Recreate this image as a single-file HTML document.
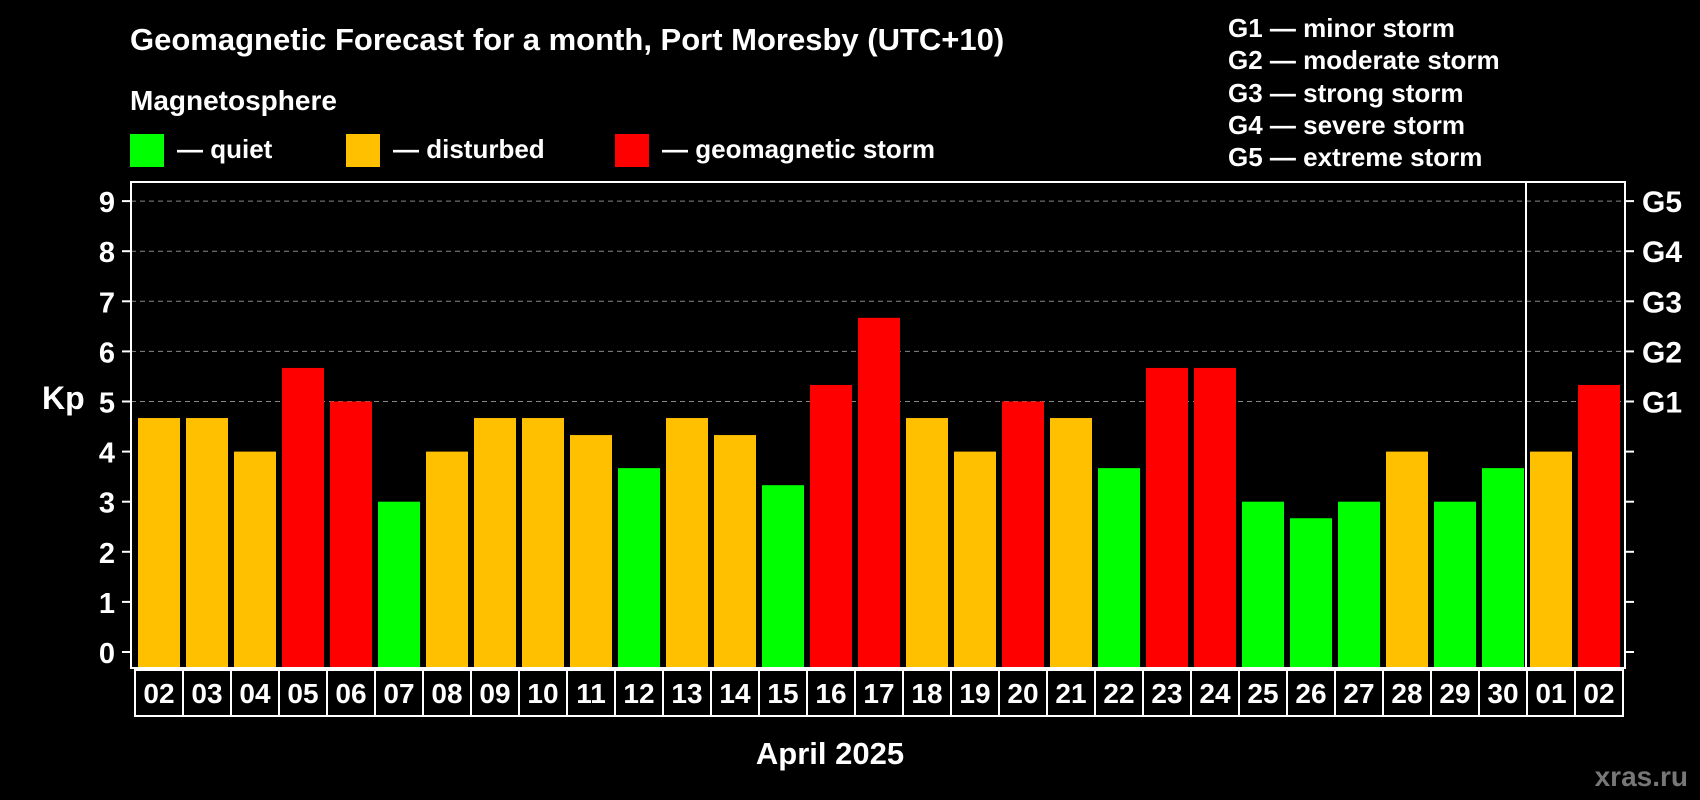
<!DOCTYPE html>
<html><head><meta charset="utf-8"><style>
html,body{margin:0;padding:0;background:#000;}
svg{display:block;font-family:"Liberation Sans",Arial,sans-serif;font-weight:bold;}
</style></head><body>
<svg id="chart" width="1700" height="800" viewBox="0 0 1700 800" xmlns="http://www.w3.org/2000/svg">
<rect width="1700" height="800" fill="#000"/>
<text x="130" y="50" fill="#fff" font-size="31">Geomagnetic Forecast for a month, Port Moresby (UTC+10)</text>
<text x="130" y="110" fill="#fff" font-size="28">Magnetosphere</text>
<g><rect x="130" y="134" width="34" height="33" fill="#00ff00"/><text x="177" y="158" fill="#fff" font-size="26">— quiet</text></g>
<g><rect x="346" y="134" width="34" height="33" fill="#ffc000"/><text x="393" y="158" fill="#fff" font-size="26">— disturbed</text></g>
<g><rect x="615" y="134" width="34" height="33" fill="#ff0000"/><text x="662" y="158" fill="#fff" font-size="26">— geomagnetic storm</text></g>
<g fill="#fff" font-size="26">
<text x="1228" y="37">G1 — minor storm</text>
<text x="1228" y="69">G2 — moderate storm</text>
<text x="1228" y="102">G3 — strong storm</text>
<text x="1228" y="134">G4 — severe storm</text>
<text x="1228" y="166">G5 — extreme storm</text>
</g>
<text x="42" y="409" fill="#fff" font-size="32">Kp</text>
<text x="830" y="764" fill="#fff" font-size="31" text-anchor="middle">April 2025</text>
<text x="1688" y="786" fill="#777" font-size="28" text-anchor="end">xras.ru</text>
<g id="grid"></g><g id="bars"></g><g id="axes"></g>
</svg>
<script>
const dates=["02","03","04","05","06","07","08","09","10","11","12","13","14","15","16","17","18","19","20","21","22","23","24","25","26","27","28","29","30","01","02"];
const kp=[4.67,4.67,4,5.67,5,3,4,4.67,4.67,4.33,3.67,4.67,4.33,3.33,5.33,6.67,4.67,4,5,4.67,3.67,5.67,5.67,3,2.67,3,4,3,3.67,4,5.33];
const yTicks=[0,1,2,3,4,5,6,7,8,9];
const gLabels=["G1","G2","G3","G4","G5"];
const NS="http://www.w3.org/2000/svg";
const L=131,R=1625,T=182,B=668,y0=652,unit=50.1,x0=135,step=48;
const y=v=>y0-v*unit;
const x=i=>x0+i*step;
function mk(tag,attrs,parent,txt){const e=document.createElementNS(NS,tag);for(const k in attrs)e.setAttribute(k,attrs[k]);if(txt!==undefined)e.textContent=txt;parent.appendChild(e);return e;}
const grid=document.getElementById('grid'),bars=document.getElementById('bars'),axes=document.getElementById('axes');
yTicks.forEach(t=>{
 if(t>=5){const g=mk('line',{x1:L,x2:R,y1:y(t),y2:y(t),stroke:'#888','stroke-dasharray':'5,4','stroke-width':1},grid);
 
 }
 const tk=mk('line',{x1:L-9,x2:L,y1:y(t),y2:y(t),stroke:'#fff','stroke-width':2},axes);
 
 
 const tr=mk('line',{x1:R,x2:R+9,y1:y(t),y2:y(t),stroke:'#fff','stroke-width':2},axes);
 
 
 const lb=mk('text',{x:115,y:y(t)+11,fill:'#fff','font-size':29,'text-anchor':'end'},axes,String(t));
 
 
});
gLabels.forEach((g,i)=>{
 const lb=mk('text',{x:1642,y:y(5+i)+11,fill:'#fff','font-size':30},axes,g);
 
 
});
kp.forEach((v,i)=>{
 const c=v>=5?'#ff0000':(v>=4?'#ffc000':'#00ff00');
 const b=mk('rect',{x:x(i)+3,y:y(v),width:42,height:B-y(v),fill:c},bars);
 
 
 const cell=mk('rect',{x:x(i),y:670,width:step,height:46,fill:'none',stroke:'#fff','stroke-width':2},axes);
 
 
 const dl=mk('text',{x:x(i)+step/2,y:703,fill:'#fff','font-size':28,'text-anchor':'middle'},axes,dates[i]);
 
 
});
const fr=mk('rect',{x:L,y:T,width:R-L,height:B-T,fill:'none',stroke:'#fff','stroke-width':2},axes);


const sep=mk('line',{x1:x(29)-1,x2:x(29)-1,y1:T,y2:B,stroke:'#fff','stroke-width':2},axes);


</script>
</body></html>
